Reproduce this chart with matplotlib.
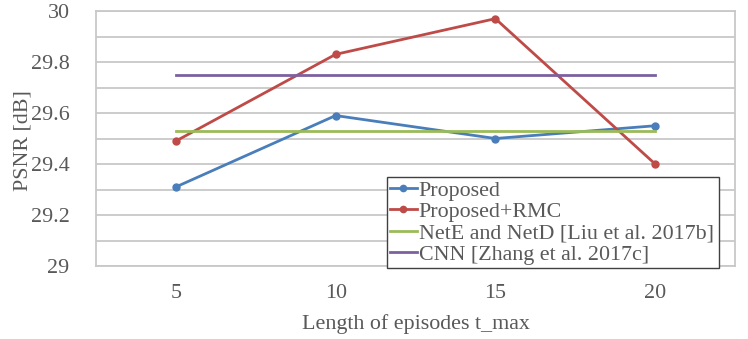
import matplotlib
matplotlib.use("Agg")
import matplotlib.pyplot as plt
from matplotlib.ticker import MultipleLocator

categories = ["5", "10", "15", "20"]
proposed = [29.31, 29.59, 29.50, 29.55]
proposed_rmc = [29.49, 29.83, 29.97, 29.40]
nete_netd = [29.53, 29.53, 29.53, 29.53]
cnn = [29.75, 29.75, 29.75, 29.75]
yticks = [29, 29.2, 29.4, 29.6, 29.8, 30]
ytick_labels = ["29", "29.2", "29.4", "29.6", "29.8", "30"]

plt.rcParams['font.family'] = ['Liberation Serif', 'DejaVu Serif']
txt = '#595959'
grid = '#c8c8c8'
fs = 15.8

fig = plt.figure(figsize=(7.48, 3.39), dpi=100)
ax = fig.add_axes([96/748, 1-266/339, (735-96)/748, (266-11)/339])
x = list(range(len(categories)))
lw = 2.0
ax.plot(x, proposed, color='#4a7ebb', lw=lw, marker='o', ms=5, label='Proposed', zorder=3)
ax.plot(x, proposed_rmc, color='#be4b48', lw=lw, marker='o', ms=5, label='Proposed+RMC', zorder=3)
ax.plot(x, nete_netd, color='#9bbb59', lw=lw, label='NetE and NetD [Liu et al. 2017b]', zorder=3)
ax.plot(x, cnn, color='#7d60a0', lw=lw, label='CNN [Zhang et al. 2017c]', zorder=3)

ax.set_xlim(-0.5, len(categories)-0.5)
ax.set_ylim(29, 30)
ax.set_xticks(x)
ax.set_xticklabels(categories)
ax.set_yticks(yticks)
ax.set_yticklabels(ytick_labels)
ax.yaxis.set_minor_locator(MultipleLocator(0.1))
ax.grid(True, which='both', axis='y', color=grid, lw=1.3, zorder=0)
ax.tick_params(axis='both', which='both', length=0, labelsize=fs, labelcolor=txt)
ax.tick_params(axis='y', pad=19)
ax.tick_params(axis='x', pad=13)
for s in ax.spines.values():
    s.set_color(grid)
    s.set_linewidth(1.3)
ax.set_xlabel('Length of episodes t_max', fontsize=fs, color=txt, labelpad=8)
ax.set_ylabel('PSNR [dB]', fontsize=fs, color=txt)
ax.yaxis.set_label_coords(-0.1, 0.49)

leg = fig.legend(loc='upper left', bbox_to_anchor=(387/748, 1-277/339, (719-387)/748, 100/339),
                 mode='expand', fontsize=fs, frameon=True, fancybox=False, framealpha=1,
                 handlelength=1.2, handletextpad=0.1, labelspacing=0.05,
                 borderpad=0.15, borderaxespad=0, markerscale=0.9)
leg.get_frame().set_edgecolor('#404040')
leg.get_frame().set_linewidth(1.0)
for t in leg.get_texts():
    t.set_color(txt)

fig.savefig('out.png', dpi=100)
